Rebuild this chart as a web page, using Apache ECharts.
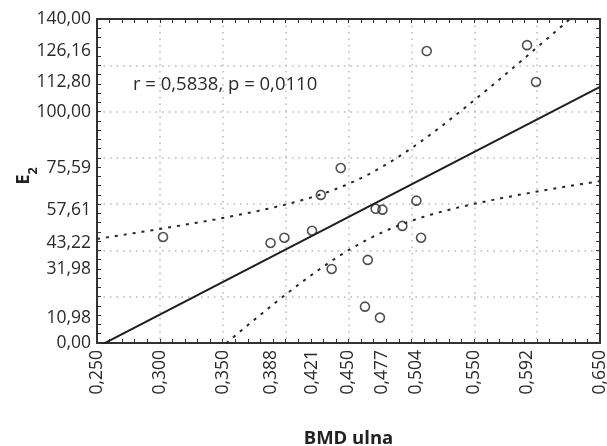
<!DOCTYPE html>
<html><head><meta charset="utf-8">
<script src="https://cdn.jsdelivr.net/npm/echarts@6/dist/echarts.min.js"></script>
<style>html,body{margin:0;padding:0;background:#fff}#c{width:607px;height:446px}</style>
</head><body><div id="c"></div>
<script>
// BMD ulna (x) and E2 (y) values
const bmdUlna = [0.3025, 0.388, 0.399, 0.421, 0.428, 0.4438, 0.4366, 0.4631, 0.4653, 0.4716, 0.477, 0.475, 0.4928, 0.504, 0.5077, 0.5122, 0.592, 0.5991];
const e2Values = [45.8, 43.22, 45.5, 48.5, 64.0, 75.59, 31.98, 15.7, 35.9, 58.0, 57.61, 10.98, 50.6, 61.5, 45.5, 126.16, 128.7, 112.80];
const xTickLabels = [0.250, 0.300, 0.350, 0.388, 0.421, 0.450, 0.477, 0.504, 0.550, 0.592, 0.650];
const yTickLabels = [0, 10.98, 31.98, 43.22, 57.61, 75.59, 100, 112.80, 126.16, 140];
const statsText = 'r = 0,5838, p = 0,0110';
const xTitle = 'BMD ulna';
const tCrit = 2.1199; // t(0.975, df=16)

// linear regression with 95% confidence band, derived from the data
const n = bmdUlna.length;
const mx = bmdUlna.reduce((a, b) => a + b, 0) / n;
const my = e2Values.reduce((a, b) => a + b, 0) / n;
let sxx = 0, sxy = 0, syy = 0;
for (let i = 0; i < n; i++) {
  const dx = bmdUlna[i] - mx, dy = e2Values[i] - my;
  sxx += dx * dx; sxy += dx * dy; syy += dy * dy;
}
const slope = sxy / sxx;
const icpt = my - slope * mx;
const s = Math.sqrt((syy - slope * sxy) / (n - 2));
const X_MIN = 0.25, X_MAX = 0.65;
const fitLine = [X_MIN, X_MAX].map(x => [x, icpt + slope * x]);
const upper = [], lower = [];
for (let k = 0; k <= 200; k++) {
  const x = X_MIN + (X_MAX - X_MIN) * k / 200;
  const yh = icpt + slope * x;
  const h = tCrit * s * Math.sqrt(1 / n + (x - mx) * (x - mx) / sxx);
  upper.push([x, yh + h]);
  lower.push([x, yh - h]);
}

const FONT = '"Open Sans", "Noto Sans", sans-serif';
const dark = '#262626';
const fmtX = v => v.toFixed(3).replace('.', ',');
const fmtY = v => v.toFixed(2).replace('.', ',');

const frameAxis = {
  axisLine: { show: true, onZero: false, lineStyle: { color: '#333', width: 2 } },
  axisTick: { show: true, inside: true, length: 4, lineStyle: { color: '#333', width: 1 } },
  minorTick: { show: true, splitNumber: 5, length: 4, lineStyle: { color: '#333', width: 1 } },
  axisLabel: { show: false },
  splitLine: { show: false }
};

const chart = echarts.init(document.getElementById('c'), null, { renderer: 'canvas' });
chart.setOption({
  animation: false,
  backgroundColor: '#fff',
  grid: { left: 97, top: 19, right: 7, bottom: 103, containLabel: false, outerBoundsMode: 'none' },
  xAxis: [
    Object.assign({}, frameAxis, {
      type: 'value', position: 'bottom', min: X_MIN, max: X_MAX, interval: 0.05,
      splitLine: { show: true, lineStyle: { color: '#b8b8b8', width: 1.5, type: [1.5, 5] } },
      axisLabel: {
        show: true, customValues: xTickLabels, rotate: 90, margin: 7,
        formatter: fmtX, fontFamily: FONT, fontSize: 17.5, color: '#2a2a2a',
        showMinLabel: true, showMaxLabel: true
      },
      name: xTitle, nameLocation: 'middle', nameGap: 86,
      nameTextStyle: { fontFamily: FONT, fontSize: 18.5, fontWeight: 'bold', color: '#222' }
    }),
    Object.assign({}, frameAxis, { type: 'value', position: 'top', min: X_MIN, max: X_MAX, interval: 0.05 })
  ],
  yAxis: [
    Object.assign({}, frameAxis, {
      type: 'value', position: 'left', min: 0, max: 140, interval: 20,
      splitLine: { show: true, lineStyle: { color: '#b8b8b8', width: 1.5, type: [1.5, 5] } },
      axisLabel: {
        show: true, customValues: yTickLabels, margin: 6,
        formatter: fmtY, fontFamily: FONT, fontSize: 17.5, color: '#2a2a2a',
        showMinLabel: true, showMaxLabel: true
      }
    }),
    Object.assign({}, frameAxis, { type: 'value', position: 'right', min: 0, max: 140, interval: 20 })
  ],
  graphic: [
    {
      type: 'text', left: 133, top: 75, z: 10,
      style: { text: statsText, font: '18.5px ' + FONT, fill: '#2a2a2a' }
    },
    {
      type: 'text', x: 27, y: 176, rotation: Math.PI / 2, z: 10,
      style: {
        text: '{e|E}{s|2}', align: 'center', verticalAlign: 'middle',
        rich: {
          e: { fontFamily: FONT, fontSize: 18.5, fontWeight: 'bold', fill: '#222', verticalAlign: 'top', lineHeight: 25 },
          s: { fontFamily: FONT, fontSize: 12.5, fontWeight: 'bold', fill: '#222', verticalAlign: 'bottom', lineHeight: 25 }
        }
      }
    }
  ],
  series: [
    {
      type: 'line', data: fitLine, symbol: 'none', clip: true, z: 3,
      lineStyle: { color: '#1e1e1e', width: 2 }
    },
    {
      type: 'line', data: upper, symbol: 'none', clip: true, z: 3,
      lineStyle: { color: dark, width: 2, type: [3, 6] }
    },
    {
      type: 'line', data: lower, symbol: 'none', clip: true, z: 3,
      lineStyle: { color: dark, width: 2, type: [3, 6] }
    },
    {
      type: 'scatter', data: bmdUlna.map((x, i) => [x, e2Values[i]]), symbol: 'circle', symbolSize: 9, z: 5,
      itemStyle: { color: 'rgba(255,255,255,0)', borderColor: '#262626', borderWidth: 1.6 }
    }
  ]
});
</script></body></html>
